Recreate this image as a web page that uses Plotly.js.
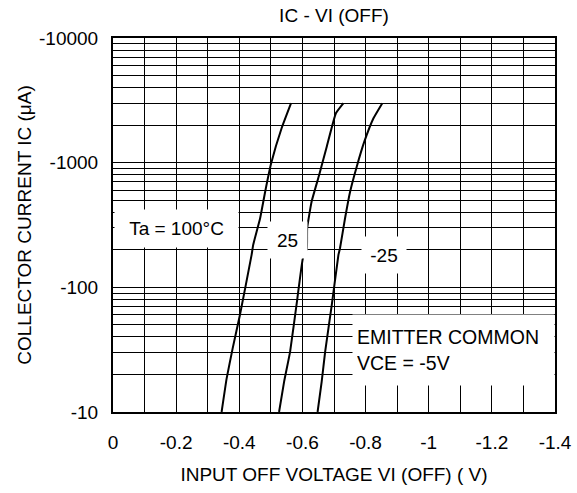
<!DOCTYPE html>
<html>
<head>
<meta charset="utf-8">
<script src="https://cdn.plot.ly/plotly-3.0.1.min.js"></script>
<style>
  html, body { margin: 0; padding: 0; background: #fff; }
  #chart { width: 577px; height: 493px; }
</style>
</head>
<body>
<div id="chart"></div>
<script>
// Input OFF voltage VI(OFF) in volts
const vi100 = [-0.344, -0.360, -0.379, -0.402, -0.439, -0.444, -0.466, -0.482, -0.501, -0.534, -0.564];
// Collector current magnitude |IC| in µA (IC is negative)
const ic100 = [10, 18.6, 32.4, 60, 182, 219, 358, 585, 988, 1887, 3000];

const vi25 = [-0.526, -0.542, -0.561, -0.584, -0.601, -0.614, -0.615, -0.629, -0.653, -0.677, -0.706, -0.730];
const ic25 = [10, 17.5, 30.5, 81.7, 169, 206, 298, 486, 796, 1343, 2489, 3000];

const viM25 = [-0.648, -0.661, -0.672, -0.693, -0.714, -0.719, -0.735, -0.751, -0.772, -0.796, -0.825, -0.853];
const icM25 = [10, 17.5, 30.5, 72.2, 182, 206, 358, 585, 929, 1473, 2270, 3000];

// Tick labels
const xTickVals = [0, -0.1, -0.2, -0.3, -0.4, -0.5, -0.6, -0.7, -0.8, -0.9, -1.0, -1.1, -1.2, -1.3, -1.4];
const xTickText = ['0', '', '-0.2', '', '-0.4', '', '-0.6', '', '-0.8', '', '-1', '', '-1.2', '', '-1.4'];
const yDecades = [10, 100, 1000, 10000];
const yDecadeText = ['-10', '-100', '-1000', '-10000'];

const yTickVals = [];
const yTickText = [];
for (let d = 0; d < yDecades.length; d++) {
  const base = yDecades[d];
  yTickVals.push(base);
  yTickText.push(yDecadeText[d]);
  if (d < yDecades.length - 1) {
    for (let m = 2; m <= 9; m++) { yTickVals.push(base * m); yTickText.push(''); }
  }
}

const FONT = 'Liberation Sans, Arial, sans-serif';
const lineStyle = { color: '#000', width: 2, shape: 'spline', smoothing: 0.35 };

const traces = [
  { x: vi100, y: ic100, name: 'Ta = 100°C', mode: 'lines', line: lineStyle, hoverinfo: 'skip' },
  { x: vi25, y: ic25, name: '25', mode: 'lines', line: lineStyle, hoverinfo: 'skip' },
  { x: viM25, y: icM25, name: '-25', mode: 'lines', line: lineStyle, hoverinfo: 'skip' }
];

const layout = {
  width: 577, height: 493,
  margin: { l: 113, r: 22, t: 38, b: 81 },
  paper_bgcolor: '#fff', plot_bgcolor: '#fff',
  showlegend: false,
  font: { family: FONT, size: 19, color: '#000' },
  title: { text: 'IC - VI (OFF)', x: 0.5, xref: 'paper', y: 1 - 15 / 493, yref: 'container', yanchor: 'middle', font: { size: 19, family: FONT, color: '#000' } },
  xaxis: {
    range: [0, -1.4], autorange: false,
    tickvals: xTickVals, ticktext: xTickText,
    showgrid: true, gridcolor: '#000', gridwidth: 1,
    zeroline: false, showline: true, mirror: true, linecolor: '#000', linewidth: 2,
    ticks: '', ticklabelstandoff: 12,
    tickfont: { size: 19, family: FONT, color: '#000' },
    title: { text: 'INPUT OFF VOLTAGE VI (OFF) ( V)', standoff: 16, font: { size: 19, family: FONT, color: '#000' } }
  },
  yaxis: {
    type: 'log', range: [1, 4], autorange: false,
    tickvals: yTickVals, ticktext: yTickText,
    showgrid: true, gridcolor: '#000', gridwidth: 1,
    zeroline: false, showline: true, mirror: true, linecolor: '#000', linewidth: 2,
    ticks: '', ticklabelstandoff: 9,
    tickfont: { size: 19, family: FONT, color: '#000' },
    title: { text: 'COLLECTOR CURRENT IC (μA)', standoff: 2, font: { size: 19, family: FONT, color: '#000' } }
  },
  annotations: [
    { text: 'Ta = 100°C', xref: 'paper', yref: 'paper', x: (176.5 - 113) / 442, y: (412 - 228.5) / 374,
      xanchor: 'center', yanchor: 'middle', showarrow: false, bgcolor: '#fff', borderpad: 0, width: 123, height: 37,
      font: { size: 19, family: FONT, color: '#000' } },
    { text: '25', xref: 'paper', yref: 'paper', x: (287.5 - 113) / 442, y: (412 - 240) / 374,
      xanchor: 'center', yanchor: 'middle', showarrow: false, bgcolor: '#fff', borderpad: 0, width: 39, height: 36,
      font: { size: 19, family: FONT, color: '#000' } },
    { text: '-25', xref: 'paper', yref: 'paper', x: (384 - 113) / 442, y: (412 - 255) / 374,
      xanchor: 'center', yanchor: 'middle', showarrow: false, bgcolor: '#fff', borderpad: 0, width: 44, height: 36,
      font: { size: 19, family: FONT, color: '#000' } },
    { text: 'EMITTER COMMON<br>VCE = -5V', xref: 'paper', yref: 'paper', x: (352 - 113) / 442, y: (412 - 350) / 374,
      xanchor: 'left', yanchor: 'middle', align: 'left', showarrow: false, bgcolor: '#fff', borderpad: 4, width: 193, height: 62,
      font: { size: 19.5, family: FONT, color: '#000' } }
  ]
};

Plotly.newPlot('chart', traces, layout, { staticPlot: true, displayModeBar: false });
</script>
</body>
</html>
